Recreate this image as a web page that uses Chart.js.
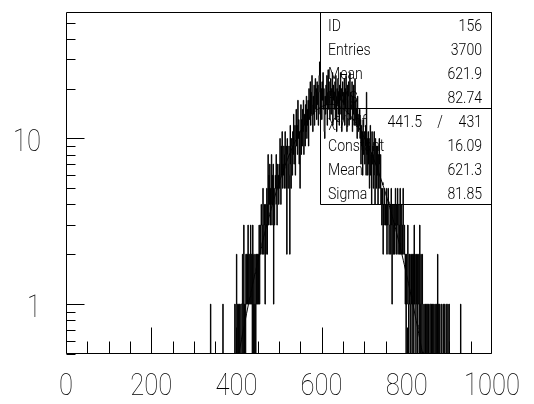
<!DOCTYPE html>
<html>
<head>
<meta charset="utf-8">
<script src="https://cdn.jsdelivr.net/npm/chart.js@4/dist/chart.umd.min.js"></script>
<style>
  html, body { margin: 0; padding: 0; background: #fff; }
  canvas { display: block; }
</style>
</head>
<body>
<canvas id="c" width="534" height="404"></canvas>
<script>
// Histogram 156: counts per unit bin, starting at bin binStart (all other bins empty)
const binStart = 330;
const counts = [
  0,0,0,0,0,0,0,0,0,1,
  0,0,0,0,0,0,0,0,0,0,
  0,0,0,0,0,0,0,0,0,0,
  0,0,0,0,0,0,0,0,1,0,
  0,0,0,0,0,0,0,0,0,0,
  0,0,0,0,0,0,0,0,0,0,
  0,0,0,0,0,0,1,0,0,1,
  2,0,1,0,0,1,1,0,1,0,
  0,1,1,0,2,1,0,3,1,0,
  1,0,2,1,2,2,1,3,1,2,
  2,1,1,3,2,1,2,0,3,2,
  0,1,0,2,1,0,2,1,2,1,
  2,1,2,3,1,2,3,2,4,3,
  3,2,5,3,2,4,3,1,4,2,
  3,5,2,4,8,3,6,4,7,3,
  5,4,8,3,6,4,7,1,5,3,
  4,6,5,8,4,3,7,5,6,4,
  7,5,10,6,4,9,6,11,5,7,
  6,9,5,8,11,7,5,9,2,10,
  8,5,7,9,6,2,12,7,5,10,
  9,6,11,8,14,7,10,12,6,9,
  15,9,12,8,17,10,13,7,11,5,
  10,16,8,13,9,15,11,17,8,12,
  14,9,16,11,18,10,15,12,17,9,
  20,13,17,22,12,19,14,24,16,11,
  18,14,21,12,19,23,15,20,13,22,
  16,21,12,19,24,29,14,22,17,20,
  13,22,17,25,15,20,11,10,18,14,
  21,16,24,12,19,26,15,22,17,13,
  18,23,14,20,16,25,12,21,17,19,
  15,22,13,24,18,11,20,16,23,14,
  19,12,21,17,25,14,20,11,18,22,
  13,19,16,23,12,20,15,24,17,11,
  21,14,18,22,12,17,25,13,19,15,
  16,22,11,18,14,21,12,17,23,13,
  17,12,15,10,18,13,11,14,12,15,
  10,13,7,12,9,11,6,13,8,10,
  11,7,9,12,6,19,8,10,6,11,
  7,10,5,9,12,6,8,4,11,7,
  9,5,8,11,6,4,10,7,5,9,
  6,9,4,8,5,10,7,5,8,4,
  5,3,4,5,2,4,3,5,4,3,
  4,3,5,2,4,3,5,4,2,3,
  3,4,2,5,3,1,4,3,2,4,
  4,2,3,5,3,2,4,3,5,2,
  3,4,2,3,5,2,3,4,2,3,
  2,5,3,2,3,2,1,2,0,2,
  1,2,3,1,0,2,1,2,0,1,
  2,1,0,2,1,2,0,3,1,2,
  1,0,2,1,2,0,1,2,1,0,
  3,1,0,2,1,0,2,1,0,0,
  1,0,0,1,0,1,0,0,1,0,
  0,1,0,0,1,1,0,0,1,0,
  1,0,0,1,0,0,1,0,0,1,
  0,0,2,0,1,0,0,1,0,0,
  0,1,0,0,0,1,0,0,1,0,
  0,0,1,0,0,0,1,0,0,1,
  0,0,0,0,0,0,0,0,0,0,
  0,0,0,0,0,0,0,0,0,0,
  0,0,0,0,0,0,1,0,0,0
];

// Axis ranges and tick labels
const xMin = 0, xMax = 1000;
const yMin = 0.5, yMax = 58;
const xTickLabels = ['0', '200', '400', '600', '800', '1000'];
const yTickLabels = ['1', '10'];

// Statistics box contents
const statNames  = ['ID', 'Entries', 'Mean', 'RMS'];
const statValues = ['156', '3700', '621.9', '82.74'];
const fitNames   = ['\u03c7\u00b2/ndf', 'Constant', 'Mean', 'Sigma'];
const chi2 = '441.5', ndf = '431';
const fitConstant = 16.09, fitMean = 621.3, fitSigma = 81.85;

// Step-line points: one per bin left edge; empty bins sit on the axis floor
const histPoints = [];
for (let i = xMin; i < xMax; i++) {
  const k = i - binStart;
  const c = (k >= 0 && k < counts.length) ? counts[k] : 0;
  histPoints.push({ x: i, y: c > 0 ? c : yMin });
}
histPoints.push({ x: xMax, y: histPoints[histPoints.length - 1].y });

// Gaussian fit from the fitted parameters
const fitPoints = [];
for (let x = xMin; x <= xMax; x += 2) {
  const g = fitConstant * Math.exp(-0.5 * Math.pow((x - fitMean) / fitSigma, 2));
  fitPoints.push({ x, y: Math.max(g, yMin * 0.5) });
}

const FONT = 'Roboto, "DejaVu Sans", sans-serif';

function squeezedText(ctx, text, x, y, sx, align) {
  ctx.save();
  ctx.translate(x, y);
  ctx.scale(sx, 1);
  ctx.textAlign = align;
  ctx.fillText(text, 0, 0);
  ctx.restore();
}

const framePlugin = {
  id: 'frame',
  beforeDraw(chart) {
    const ctx = chart.ctx;
    ctx.save();
    ctx.fillStyle = '#fff';
    ctx.fillRect(0, 0, chart.width, chart.height);
    ctx.restore();
  },
  afterDatasetsDraw(chart) {
    const { ctx, chartArea: a, scales } = chart;
    const xs = scales.x, ys = scales.y;
    const L = a.left + 0.5, R = a.right - 0.5, T = a.top + 0.5, B = a.bottom - 0.5;
    ctx.save();
    ctx.strokeStyle = '#000';
    ctx.lineWidth = 1;
    ctx.beginPath();
    ctx.rect(L, T, R - L, B - T);
    ctx.stroke();

    // log-axis ticks, pointing into the frame
    ctx.beginPath();
    for (const d of [0.1, 1, 10, 100]) {
      for (let m = 1; m <= 9; m++) {
        const v = m * d;
        if (v < yMin || v > yMax) continue;
        const py = Math.round(ys.getPixelForValue(v)) + 0.5;
        const len = m === 1 ? 18 : 9;
        ctx.moveTo(L, py);
        ctx.lineTo(L + len, py);
      }
    }
    // x ticks every 50, long ones every 200
    for (let v = xMin + 50; v < xMax; v += 50) {
      const px = Math.round(xs.getPixelForValue(v)) + 0.5;
      const len = v % 200 === 0 ? 26 : 12;
      ctx.moveTo(px, B);
      ctx.lineTo(px, B - len);
    }
    ctx.stroke();

    // tick labels
    ctx.fillStyle = '#000';
    ctx.font = '100 32px ' + FONT;
    ctx.textBaseline = 'alphabetic';
    for (const t of xTickLabels) {
      squeezedText(ctx, t, xs.getPixelForValue(Number(t)), a.bottom + 41, 0.8, 'center');
    }
    for (const t of yTickLabels) {
      squeezedText(ctx, t, 41, ys.getPixelForValue(Number(t)) + 13, 0.8, 'right');
    }

    // statistics box
    const bl = 320.5, br = R, bt = T, bm = T + 96, bb = T + 192;
    ctx.beginPath();
    ctx.rect(bl, bt, br - bl, bb - bt);
    ctx.moveTo(bl, bm);
    ctx.lineTo(br, bm);
    ctx.stroke();

    ctx.font = '300 16px ' + FONT;
    const tx = 328, vx = 482, sx = 0.88;
    statNames.forEach((n, i) => {
      const by = bt + 12 + 24 * i + 6;
      squeezedText(ctx, n, tx, by, sx, 'left');
      squeezedText(ctx, statValues[i], vx, by, sx, 'right');
    });
    const fitValues = [null, fitConstant.toFixed(2), fitMean.toFixed(1), fitSigma.toFixed(2)];
    fitNames.forEach((n, i) => {
      const by = bm + 12 + 24 * i + 6;
      squeezedText(ctx, n, tx, by, sx, 'left');
      if (i === 0) {
        squeezedText(ctx, chi2, 422, by, sx, 'right');
        squeezedText(ctx, '/', 440, by, sx, 'center');
        squeezedText(ctx, ndf, vx, by, sx, 'right');
      } else {
        squeezedText(ctx, fitValues[i], vx, by, sx, 'right');
      }
    });
    ctx.restore();
  }
};

new Chart(document.getElementById('c'), {
  type: 'scatter',
  data: {
    datasets: [
      {
        label: '156',
        data: histPoints,
        showLine: true,
        stepped: true,
        borderColor: '#000',
        borderWidth: 1,
        pointRadius: 0,
        fill: false
      },
      {
        label: 'gaus',
        data: fitPoints,
        showLine: true,
        borderColor: '#000',
        borderWidth: 1,
        pointRadius: 0,
        tension: 0,
        fill: false
      }
    ]
  },
  options: {
    responsive: false,
    animation: false,
    devicePixelRatio: 1,
    layout: { padding: { left: 66, top: 12, right: 42, bottom: 50 } },
    plugins: { legend: { display: false }, tooltip: { enabled: false } },
    scales: {
      x: { type: 'linear', min: xMin, max: xMax, display: false, bounds: 'data' },
      y: { type: 'logarithmic', min: yMin, max: yMax, display: false, bounds: 'data' }
    }
  },
  plugins: [framePlugin]
});
</script>
</body>
</html>
